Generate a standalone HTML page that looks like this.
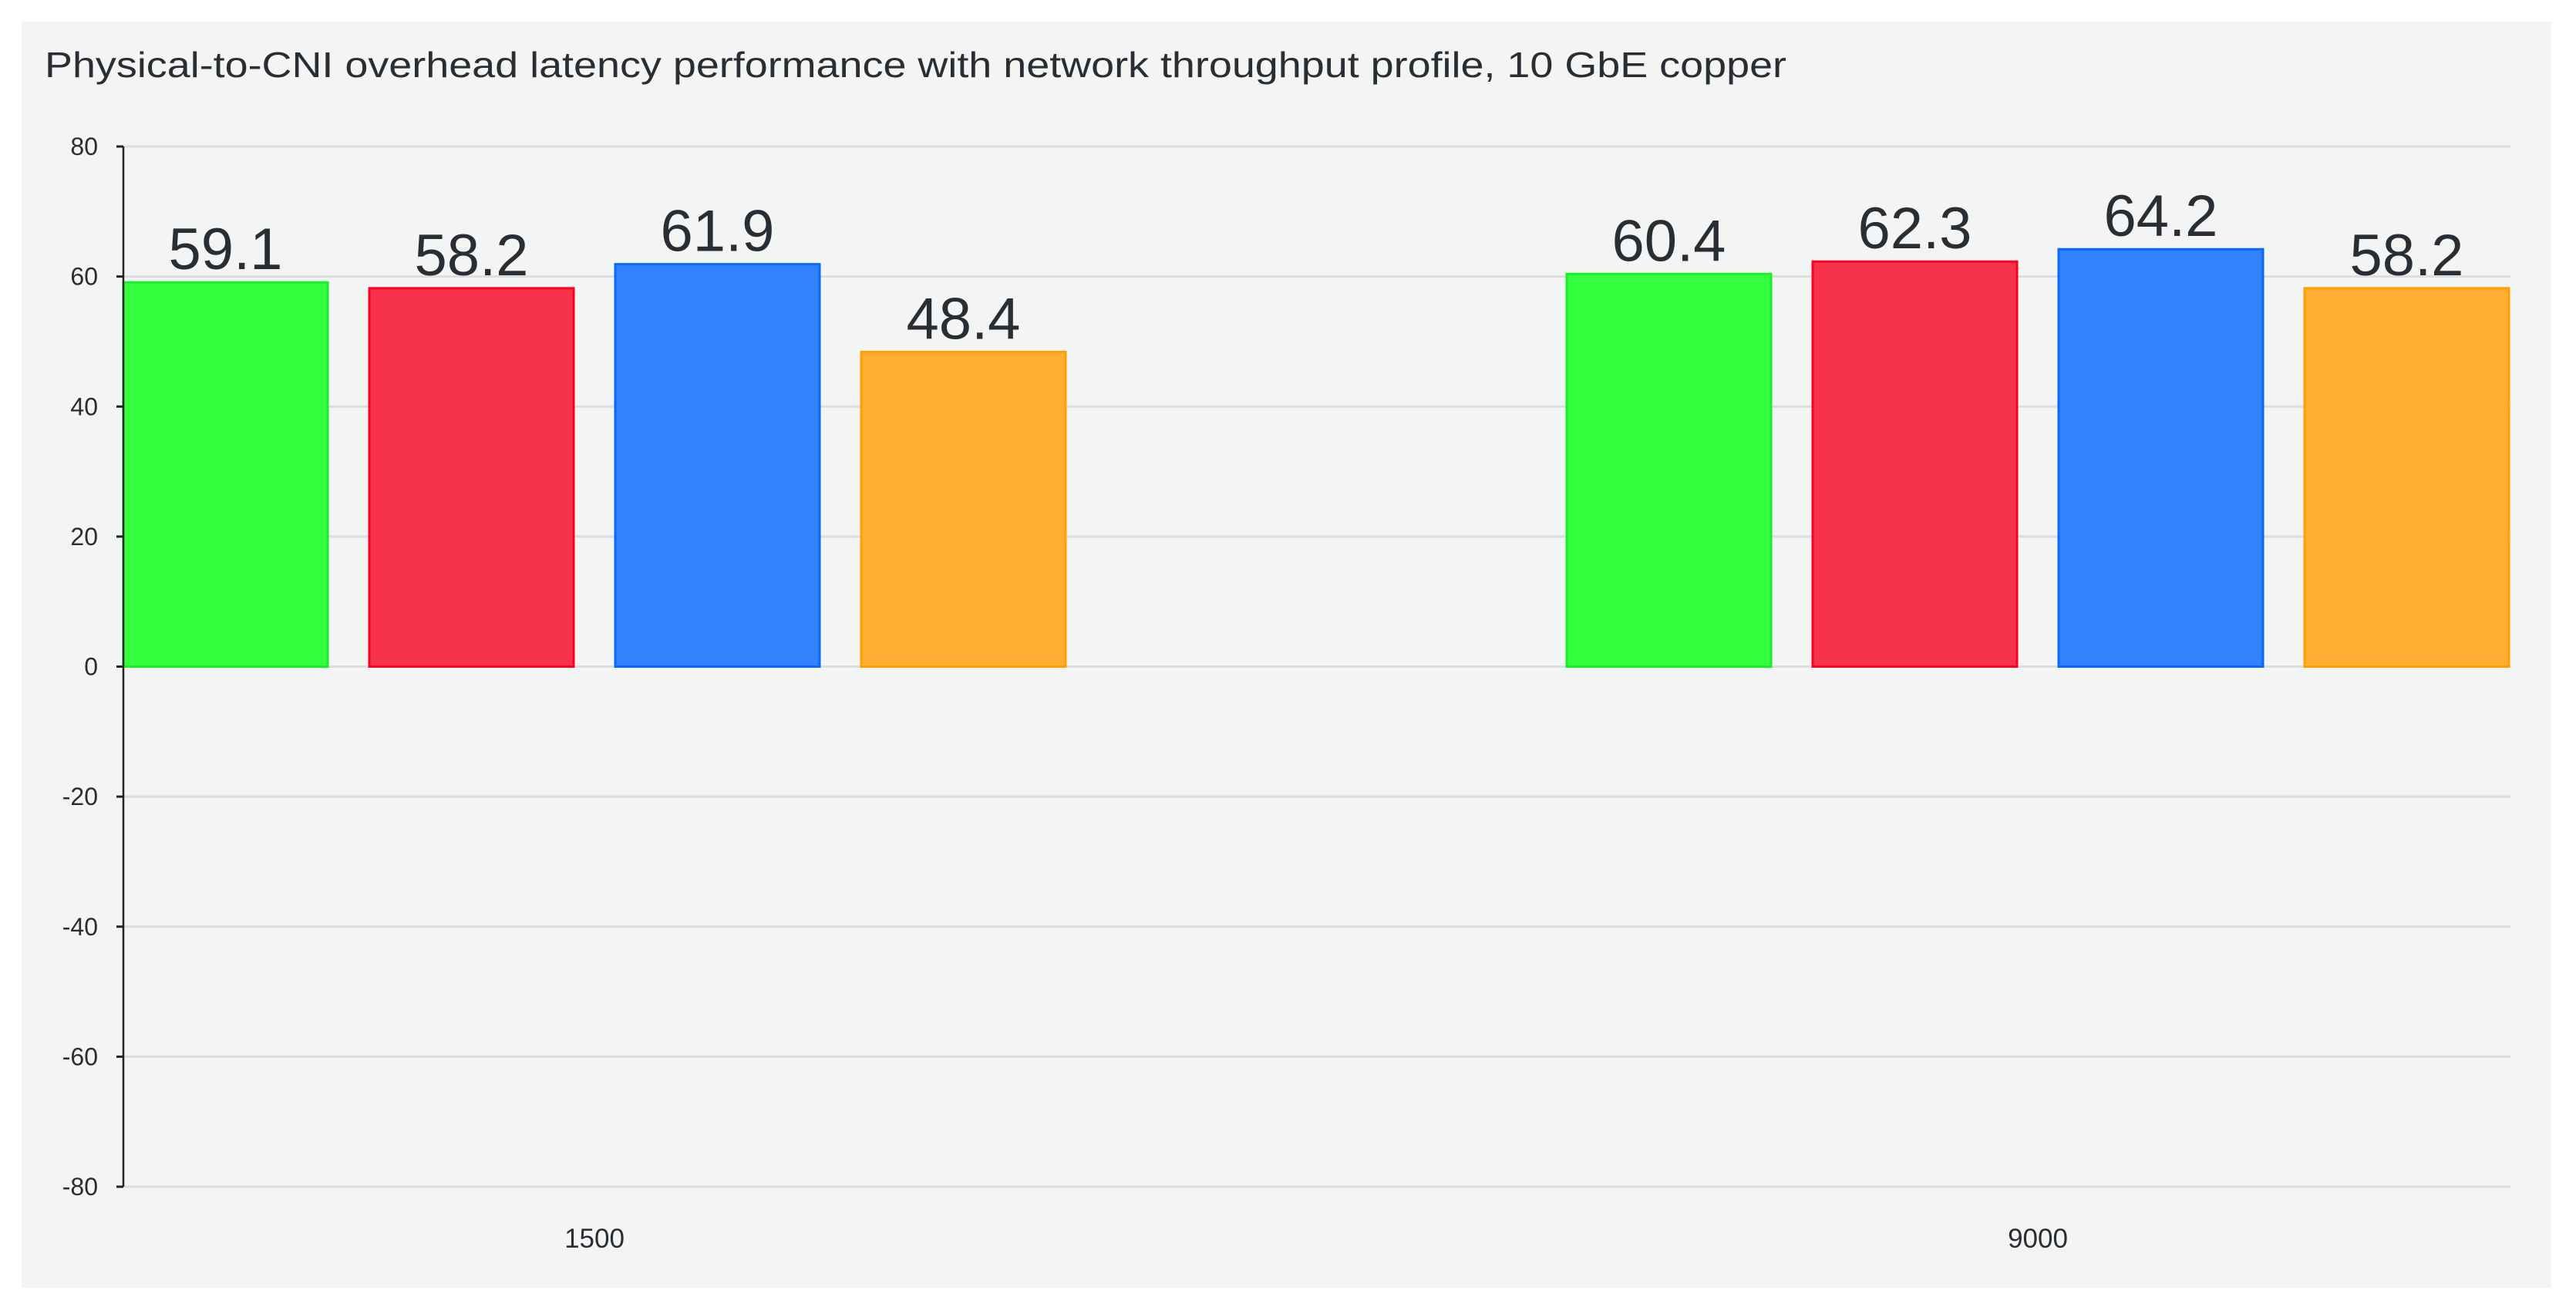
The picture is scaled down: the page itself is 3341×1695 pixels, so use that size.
<!DOCTYPE html>
<html><head><meta charset="utf-8">
<style>
html,body{margin:0;padding:0;background:#fff;}
svg{display:block;font-family:"Liberation Sans",sans-serif;}
</style></head>
<body>
<svg id="chart" width="3341" height="1695" viewBox="0 0 3341 1695" xmlns="http://www.w3.org/2000/svg">
<rect x="28" y="28" width="3281" height="1642" fill="#f3f4f4"/>
<text x="58" y="100" font-size="46" fill="#2a2d33" textLength="2259" lengthAdjust="spacingAndGlyphs">Physical-to-CNI overhead latency performance with network throughput profile, 10 GbE copper</text>
<g id="grid"></g>
<g id="bars"></g>
<g id="axes"></g>
</svg>
<script>
const categories = ["1500", "9000"];
const seriesGreen = [59.1, 60.4];
const seriesRed = [58.2, 62.3];
const seriesBlue = [61.9, 64.2];
const seriesOrange = [48.4, 58.2];
const yTicks = [80, 60, 40, 20, 0, -20, -40, -60, -80];

const NS = "http://www.w3.org/2000/svg";
const plotL = 160, plotR = 3256, yTop = 190, yBot = 1539, yMax = 80, yMin = -80;
function yScale(v){ return yTop + (yMax - v) / (yMax - yMin) * (yBot - yTop); }
const groupFirst = 771, groupStep = 1872, barPitch = 319, barW = 265;
function groupCenter(i){ return groupFirst + i * groupStep; }
function mk(tag, attrs, parent){
  const el = document.createElementNS(NS, tag);
  for (const k in attrs) el.setAttribute(k, attrs[k]);
  parent.appendChild(el);
  return el;
}
const grid = document.getElementById('grid');
const axes = document.getElementById('axes');
const barsG = document.getElementById('bars');

yTicks.forEach(t => {
  const y = yScale(t);
  const gl = mk('line', {x1: plotL, x2: plotR, y1: y, y2: y, stroke: '#dcdddf', 'stroke-width': 3}, grid);
  
  
  const tk = mk('line', {x1: plotL - 9, x2: plotL, y1: y, y2: y, stroke: '#222', 'stroke-width': 3}, axes);
  
  
  const lb = mk('text', {x: plotL - 33, y: y + 11, 'text-anchor': 'end', 'font-size': 32, fill: '#2a2d33'}, axes);
  lb.textContent = t;
  
  
});
const ax = mk('line', {x1: plotL, x2: plotL, y1: yTop, y2: yBot, stroke: '#222', 'stroke-width': 2.5}, axes);



const series = [
  {name: 'green', vals: seriesGreen, fill: '#33ff3f', stroke: '#1aee2a'},
  {name: 'red', vals: seriesRed, fill: '#f5334a', stroke: '#ff0022'},
  {name: 'blue', vals: seriesBlue, fill: '#3182fc', stroke: '#0a66ff'},
  {name: 'orange', vals: seriesOrange, fill: '#ffad33', stroke: '#ffa000'}
];
categories.forEach((c, gi) => {
  const gc = groupCenter(gi);
  series.forEach((s, si) => {
    const cx = gc + (si - 1.5) * barPitch;
    const v = s.vals[gi];
    const y0 = yScale(0), y1 = yScale(v);
    const r = mk('rect', {x: cx - barW / 2, y: Math.min(y0, y1), width: barW, height: Math.abs(y0 - y1), fill: s.fill, stroke: s.stroke, 'stroke-width': 3}, barsG);
    
    
    const t = mk('text', {x: cx, y: y1 - 17, 'text-anchor': 'middle', 'font-size': 76, fill: '#2a2d33'}, barsG);
    t.textContent = v.toFixed(1);
    
    
  });
  const xl = mk('text', {x: gc, y: 1618, 'text-anchor': 'middle', 'font-size': 35, fill: '#2a2d33'}, axes);
  xl.textContent = c;
  
  
});
</script>
</body></html>
